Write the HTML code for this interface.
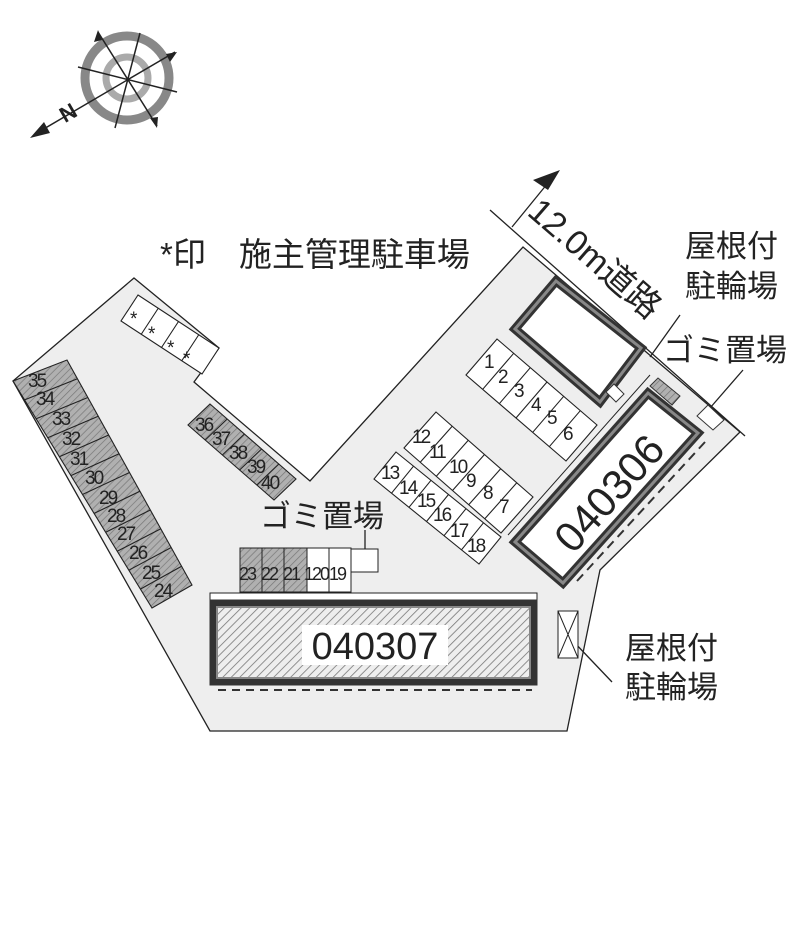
<!DOCTYPE html>
<html><head><meta charset="utf-8"><style>
html,body{margin:0;padding:0;background:#fff;}
svg{display:block;}
text{font-family:"Liberation Sans","Noto Sans CJK JP",sans-serif;fill:#222;}
</style></head><body>
<svg width="800" height="940" viewBox="0 0 800 940" xmlns="http://www.w3.org/2000/svg">
<defs>
<pattern id="h" width="6" height="6" patternUnits="userSpaceOnUse" patternTransform="rotate(45)">
<rect width="6" height="6" fill="#eee"/><line x1="0" y1="0" x2="0" y2="6" stroke="#777" stroke-width="1.6"/></pattern>
<pattern id="hd" width="5" height="5" patternUnits="userSpaceOnUse" patternTransform="rotate(45)">
<rect width="5" height="5" fill="#b0b0b0"/><line x1="0" y1="0" x2="0" y2="5" stroke="#777" stroke-width="1.4"/></pattern>
</defs>

<!-- compass -->
<g>
<circle cx="127" cy="78" r="42" fill="none" stroke="#888" stroke-width="9"/>
<circle cx="127" cy="78" r="21" fill="none" stroke="#aaa" stroke-width="7"/>
<g stroke="#222" stroke-width="1.5">
<line x1="98" y1="32" x2="157" y2="126"/>
<line x1="140" y1="33" x2="115" y2="128"/>
<line x1="78" y1="67" x2="177" y2="92"/>
<line x1="175" y1="52" x2="42" y2="130"/>
</g>
<polygon points="98,30 94,42 102,40" fill="#222"/>
<polygon points="157,128 150,118 158,117" fill="#222"/>
<polygon points="177,52 166,54 170,62" fill="#222"/>
<polygon points="30,138 44,122 50,133" fill="#222"/>
<text x="62" y="124" font-size="22" font-weight="bold" transform="rotate(-30 62 118)">N</text>
</g>

<!-- lot -->
<polygon points="134,278 219,348 194,382 310,481 523,247 740,432 600,570 567,731 210,731 13,381" fill="#eeeeee" stroke="#222" stroke-width="1.3"/>

<!-- road lines -->
<g stroke="#222" stroke-width="1.3" fill="none">
<line x1="490" y1="210" x2="745" y2="436"/>
<line x1="512" y1="227" x2="552" y2="178"/>
<line x1="650" y1="357" x2="680" y2="315"/>
<line x1="743" y1="370" x2="710" y2="408"/>
<line x1="572" y1="640" x2="612" y2="682"/>
<line x1="365" y1="530" x2="365" y2="560"/>
<line x1="508" y1="535" x2="650" y2="375" stroke-width="1"/>
</g>
<polygon points="560,170 533,180 548,190" fill="#222"/>
<text x="0" y="0" font-size="34" transform="translate(526,214) rotate(41)">12.0m道路</text>

<!-- upper building -->
<polygon points="556,281 641,348 600,402 515,329" fill="#fff" stroke="#333" stroke-width="9"/>
<polygon points="556,281 641,348 600,402 515,329" fill="none" stroke="#888" stroke-width="3"/>
<polygon points="606,392 614,384 624,394 616,402" fill="#fff" stroke="#333" stroke-width="1"/>

<!-- 040306 -->
<polygon points="648,393 698,433 563,583 515,542" fill="#fff" stroke="#333" stroke-width="9"/>
<polygon points="648,393 698,433 563,583 515,542" fill="none" stroke="#888" stroke-width="3"/>
<text font-size="42" text-anchor="middle" transform="translate(620,503) rotate(-48)">040306</text>
<polygon points="650,386 658,378 680,396 672,405" fill="url(#hd)" stroke="#333" stroke-width="1"/>
<polygon points="697,416 708,405 724,420 713,430" fill="#fff" stroke="#333" stroke-width="1"/>
<line x1="705" y1="442" x2="577" y2="581" stroke="#333" stroke-width="2" stroke-dasharray="9,6"/>

<!-- parking blocks -->
<g fill="#fff" stroke="#222" stroke-width="1.1">
<polygon points="497,339 597,425 566,461 466,375"/>
<path d="M513.7,353.3L482.7,389.3M530.3,367.7L499.3,403.7M547,382L516,418M563.7,396.3L532.7,432.3M580.3,410.7L549.3,446.7"/>
<polygon points="436,412 533,497 501,533 404,448"/>
<path d="M452.2,426.2L420.2,462.2M468.3,440.3L436.3,476.3M484.5,454.5L452.5,490.5M500.7,468.7L468.7,504.7M516.8,482.8L484.8,518.8"/>
<polygon points="396,452 501,537 479,564 374,479"/>
<path d="M413.5,466.2L391.5,493.2M431,480.3L409,507.3M448.5,494.5L426.5,521.5M466,508.7L444,535.7M483.5,522.8L461.5,549.8"/>
<polygon points="138,295 219,348 202,374 121,321"/>
<path d="M158.25,308.25L141.25,334.25M178.5,321.5L161.5,347.5M198.75,334.75L181.75,360.75"/>
<polygon points="210,404 296,479 274,500 188,425" fill="url(#hd)"/>
<path d="M227.2,419L205.2,440M244.4,434L222.4,455M261.6,449L239.6,470M278.8,464L256.8,485"/>
<polygon points="13,381 67,360 192,585 152,608" fill="url(#hd)"/>
<path d="M24.6,399.9L77.4,378.75M36.2,418.8L87.8,397.5M47.75,437.75L98.25,416.25M59.3,456.7L108.7,435M70.9,475.6L119.1,453.75M82.5,494.5L129.5,472.5M94.1,513.4L139.9,491.25M105.7,532.3L150.3,510M117.2,551.3L160.8,528.75M128.8,570.2L171.2,547.5M140.4,589.1L181.6,566.25"/>
</g>

<!-- row 19-23 -->
<rect x="240" y="548" width="67" height="44" fill="url(#hd)" stroke="#222" stroke-width="1"/>
<rect x="307" y="548" width="44" height="44" fill="#fff" stroke="#222" stroke-width="1"/>
<path d="M262 548V592M284 548V592M329 548V592" stroke="#222" stroke-width="1"/>
<rect x="351" y="549" width="27" height="23" fill="#fff" stroke="#222" stroke-width="1"/>
<g font-size="18" letter-spacing="-2">
<text x="239" y="580">23</text><text x="261" y="580">22</text><text x="283" y="580">21</text><text x="304" y="580">120</text><text x="329" y="580">19</text>
</g>

<!-- 040307 -->
<rect x="210" y="593" width="327" height="8" fill="#fff" stroke="#222" stroke-width="1"/>
<rect x="213" y="603" width="321" height="79" fill="url(#h)" stroke="#333" stroke-width="7"/>
<rect x="217" y="607" width="313" height="71" fill="none" stroke="#888" stroke-width="2"/>
<rect x="302" y="625" width="146" height="40" fill="#fff"/>
<text x="375" y="659" font-size="38" text-anchor="middle">040307</text>
<line x1="218" y1="690" x2="532" y2="690" stroke="#333" stroke-width="2" stroke-dasharray="8,6"/>
<rect x="558" y="611" width="20" height="47" fill="#fff" stroke="#222" stroke-width="1"/>
<path d="M558 611L578 658M578 611L558 658" stroke="#222" stroke-width="1"/>

<!-- parking numbers -->
<g font-size="19" letter-spacing="-2">
<text x="484" y="368">1</text><text x="498" y="383">2</text><text x="514" y="397">3</text><text x="531" y="411">4</text><text x="547" y="424">5</text><text x="563" y="440">6</text>
<text x="412" y="443">12</text><text x="429" y="458">11</text><text x="449" y="473">10</text><text x="466" y="487">9</text><text x="483" y="499">8</text><text x="499" y="513">7</text>
<text x="381" y="479">13</text><text x="399" y="494">14</text><text x="417" y="507">15</text><text x="433" y="521">16</text><text x="450" y="537">17</text><text x="467" y="552">18</text>
<text x="195" y="431">36</text><text x="212" y="445">37</text><text x="229" y="459">38</text><text x="247" y="473">39</text><text x="261" y="489">40</text>
<text x="28" y="387">35</text><text x="36" y="405">34</text><text x="52" y="425">33</text><text x="62" y="445">32</text><text x="70" y="465">31</text><text x="85" y="484">30</text><text x="99" y="504">29</text><text x="107" y="522">28</text><text x="117" y="540">27</text><text x="129" y="559">26</text><text x="142" y="579">25</text><text x="154" y="597">24</text>
<text x="130" y="325">*</text><text x="148" y="340">*</text><text x="167" y="354">*</text><text x="183" y="365">*</text>
</g>

<!-- labels -->
<g font-size="31">
<text x="160" y="266" font-size="33">*印　施主管理駐車場</text>
<text x="685" y="257">屋根付</text>
<text x="685" y="297">駐輪場</text>
<text x="663" y="361">ゴミ置場</text>
<text x="260" y="527">ゴミ置場</text>
<text x="625" y="659">屋根付</text>
<text x="625" y="698">駐輪場</text>
</g>
</svg>
</body></html>
